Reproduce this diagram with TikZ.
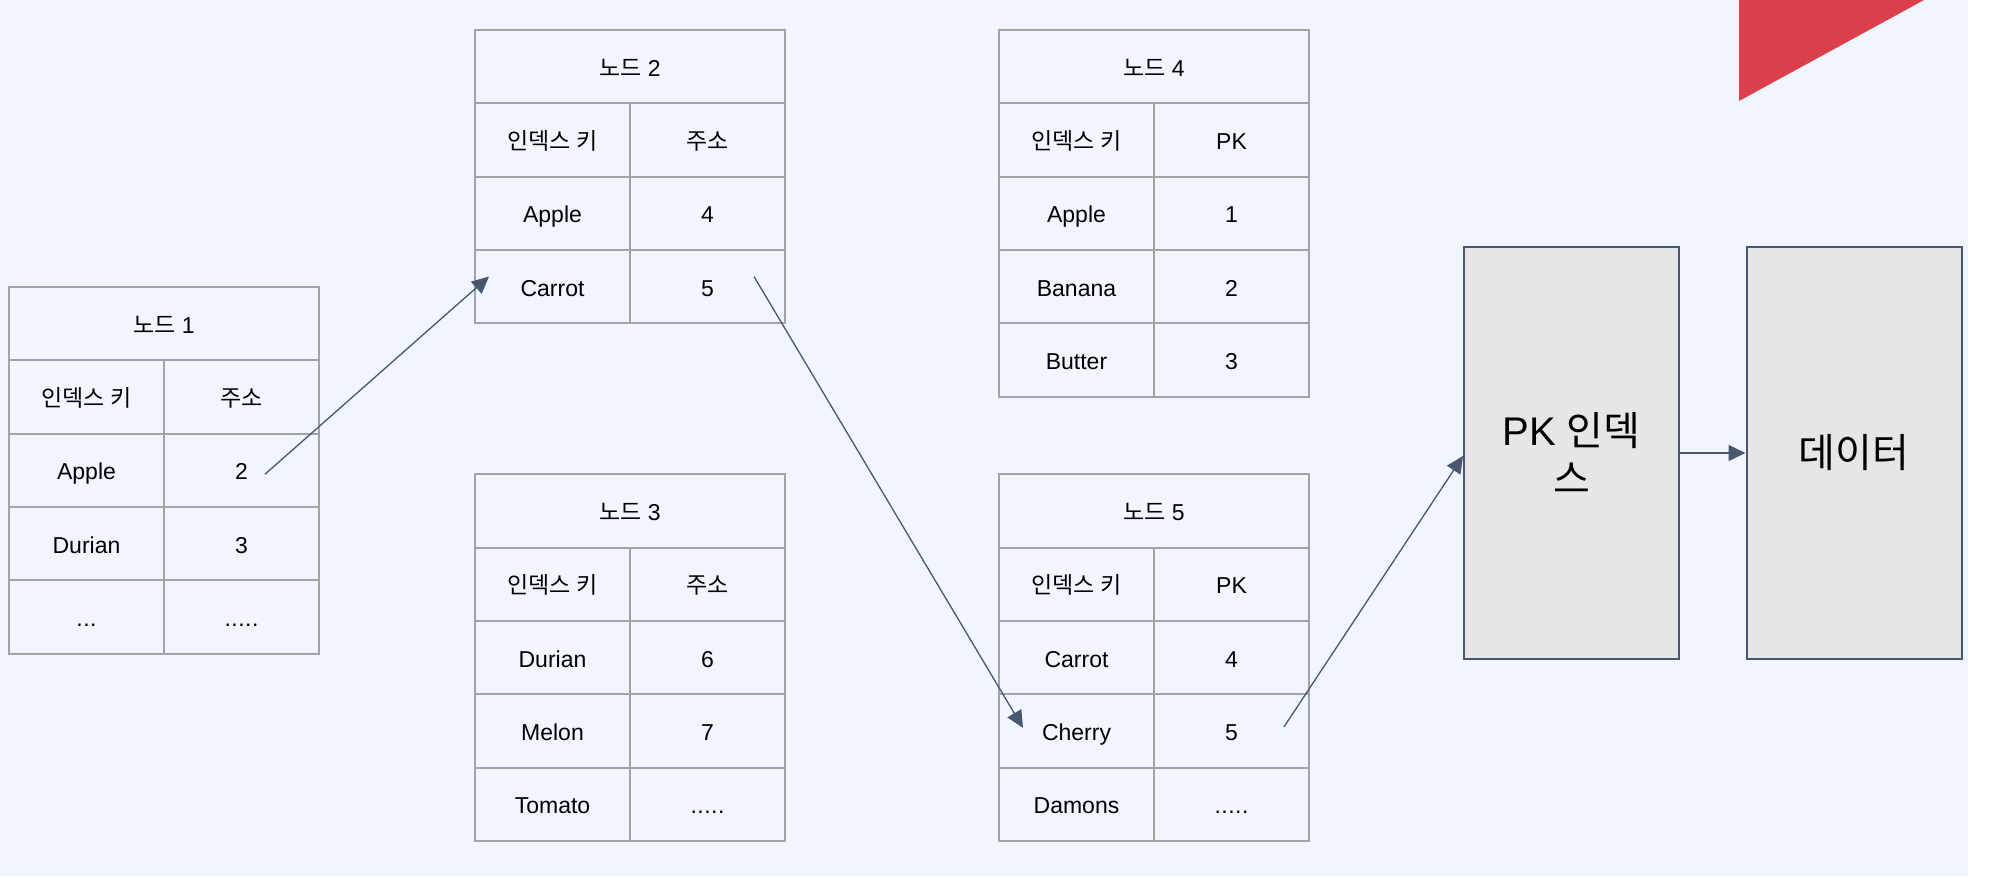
\documentclass[tikz,border=0pt]{standalone}
\usepackage{fontspec}
\setmainfont{Liberation Sans}
\newfontfamily\kr{Noto Sans CJK KR}
\usetikzlibrary{arrows.meta,calc}
\definecolor{bgc}{HTML}{F0F5FF}
\definecolor{tgray}{HTML}{A3A3A3}
\definecolor{slate}{HTML}{485670}
\definecolor{boxfill}{HTML}{E6E6E6}
\definecolor{redc}{HTML}{DB3F4C}
\newcommand\mydotsthree{.\kern0.5pt.\kern0.5pt.}
\newcommand\mydotsfive{.\kern0.5pt.\kern0.5pt.\kern0.5pt.\kern0.5pt.}
\tikzset{
  cellw/.style={draw=tgray, line width=2pt, minimum width=155pt, minimum height=73.3pt,
    inner sep=0pt, anchor=north west, text height=20pt, text depth=1pt,
    font=\fontsize{23}{27}\selectfont},
  bigbox/.style={draw=slate, fill=boxfill, line width=2pt, minimum width=215pt,
    minimum height=412pt, inner sep=0pt, align=center, font=\fontsize{40}{48}\selectfont},
  conn/.style={draw=slate, line width=1.3pt, -{Triangle[length=17pt,width=16pt]}},
}
\newcommand\mytab[6]{%
  \node[cellw, minimum width=310pt] (#1-t) at (#2,#3) {{\kr 노드} #4};
  \node[cellw] (#1-h-a) at (#2,#3+73.3) {{\kr 인덱스 키}};
  \node[cellw] (#1-h-b) at (#2+155,#3+73.3) {#5};
  \foreach \a/\b [count=\i] in {#6} {
    \node[cellw] (#1-\i-a) at (#2,#3+73.3+73.3*\i) {\a};
    \node[cellw] (#1-\i-b) at (#2+155,#3+73.3+73.3*\i) {\b};
  }%
}
\begin{document}
\begin{tikzpicture}[x=1pt,y=-1pt]
\useasboundingbox (0,0) rectangle (1994,876);
\fill[white] (0,0) rectangle (1994,876);
\fill[bgc] (0,0) rectangle (1968,876);
\fill[redc] (1739,0) -- (1924,0) -- (1739,101) -- cycle;

\mytab{n1}{8}{286}{1}{{\kr 주소}}{Apple/2,Durian/3,\mydotsthree/\mydotsfive}
\mytab{n2}{474}{29}{2}{{\kr 주소}}{Apple/4,Carrot/5}
\mytab{n3}{474}{473.3}{3}{{\kr 주소}}{Durian/6,Melon/7,Tomato/\mydotsfive}
\mytab{n4}{998}{29}{4}{PK}{Apple/1,Banana/2,Butter/3}
\mytab{n5}{998}{473.3}{5}{PK}{Carrot/4,Cherry/5,Damons/\mydotsfive}

\node[bigbox] (pk) at (1571.5,453) {PK {\kr 인덱}\\{\kr 스}};
\node[bigbox] (data) at (1854,453) {{\kr 데이터}};

\draw[conn] ([xshift=-55pt,yshift=-4pt]n1-1-b.east) -- ([xshift=15pt,yshift=10pt]n2-2-a.west);
\draw[conn] ([xshift=-32pt,yshift=10pt]n2-2-b.east) -- ([xshift=25pt,yshift=3pt]n5-2-a.west);
\draw[conn] ([xshift=-26pt,yshift=4pt]n5-2-b.east) -- ([yshift=-3pt]pk.west);
\draw[conn] (pk.east) -- (data.west);
\end{tikzpicture}
\end{document}
